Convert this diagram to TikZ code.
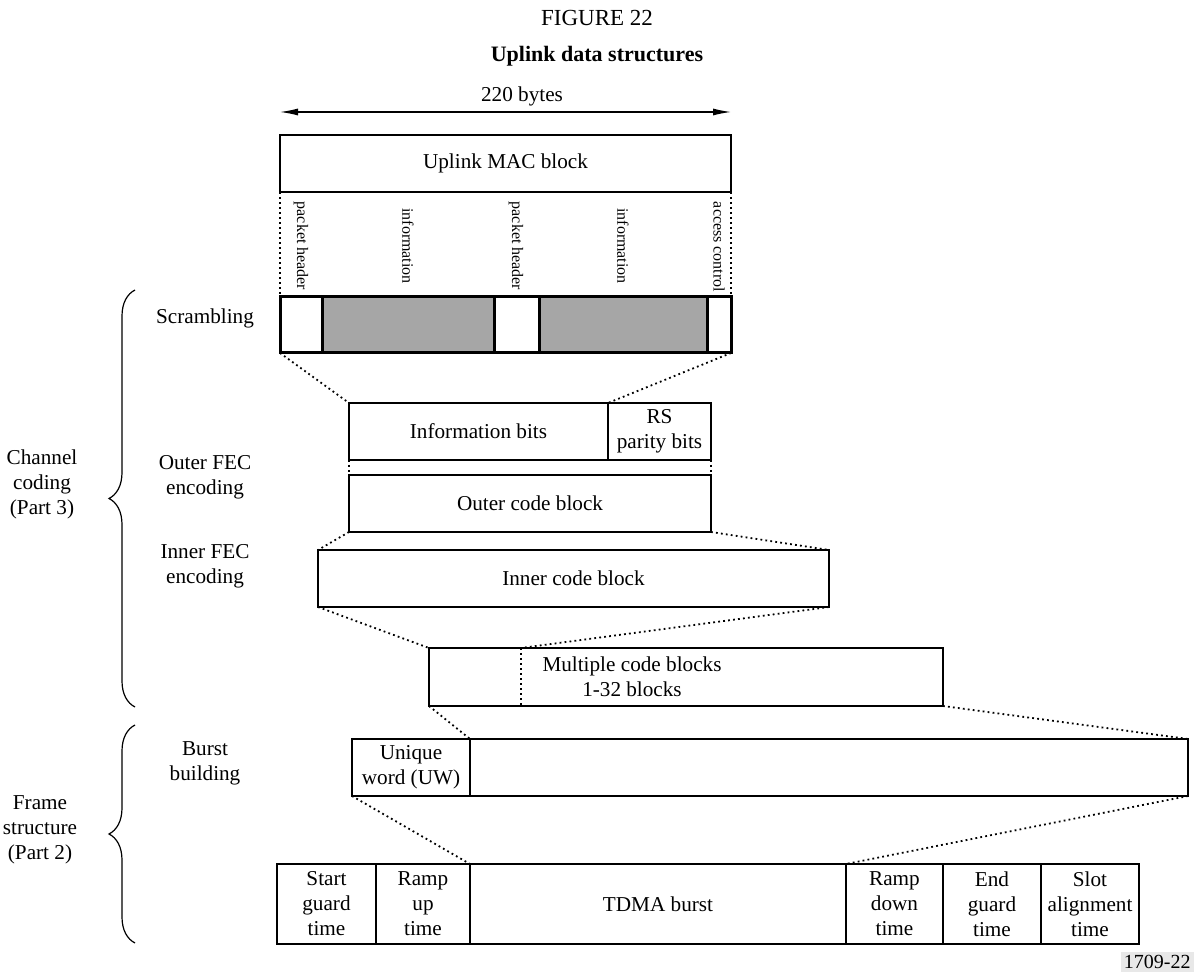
\documentclass[tikz,border=0pt]{standalone}
\usepackage{fontspec}
\setmainfont{Liberation Serif}
\usetikzlibrary{arrows.meta,positioning,decorations.pathreplacing}
\definecolor{shadegray}{RGB}{166,166,166}
\definecolor{taggray}{RGB}{232,232,232}
\tikzset{
  field/.style={rectangle, draw, line width=1.2pt, inner sep=0pt, outer sep=0pt, align=center,
                font=\fontsize{10.6}{12.5}\selectfont},
  fieldgray/.style={field, fill=shadegray},
  scram/.style={field, line width=1.5pt, minimum height=28pt},
  slot/.style={field, minimum height=40pt},
  vlabel/.style={rotate=-90, font=\fontsize{8}{9.5}\selectfont},
  steplabel/.style={align=center, font=\fontsize{10.6}{12.5}\selectfont},
  zoomline/.style={line width=0.9pt, dash pattern=on 0.9pt off 1.6pt},
  groupbrace/.style={decorate, decoration={brace, amplitude=13pt}, line width=0.6pt},
}

\begin{document}
\begin{tikzpicture}[x=0.5pt, y=-0.5pt]
\useasboundingbox (0,0) rectangle (1194,972);
\node[font=\fontsize{11.5}{13}\selectfont] (fig) at (597,18) {FIGURE 22};
\node[font=\fontsize{11}{13}\bfseries] (title) at (597,56) {Uplink data structures};
\coordinate (wl) at (280,112);
\coordinate (wr) at (731,112);
\node[steplabel] (bytes) at (522,96) {220 bytes};
\draw[{Latex[length=9pt, width=3.5pt]}-{Latex[length=9pt, width=3.5pt]}, line width=0.6pt] (wl) -- (wr);

\node[field, anchor=north west, minimum width=225.5pt, minimum height=28.5pt] (mac) at (280,135) {Uplink MAC block};

\node[scram, anchor=north west, minimum width=21pt] (s1) at (280,297) {};
\node[scram, fill=shadegray, minimum width=86pt, right=0pt of s1] (s2) {};
\node[scram, minimum width=22.5pt, right=0pt of s2] (s3) {};
\node[scram, fill=shadegray, minimum width=84pt, right=0pt of s3] (s4) {};
\node[scram, minimum width=12pt, right=0pt of s4] (s5) {};
\node[vlabel] (ph1) at (301,246) {packet header};
\node[vlabel] (inf1) at (408,246) {information};
\node[vlabel] (ph2) at (516,246) {packet header};
\node[vlabel] (inf2) at (623,246) {information};
\node[vlabel] (acc) at (719,247) {access control};
\draw[zoomline] (mac.south west) -- (s1.north west);
\draw[zoomline] (mac.south east) -- (s5.north east);

\node[field, anchor=north west, minimum width=129.5pt, minimum height=28.5pt] (info) at (349,403) {Information bits};
\node[field, minimum width=51.5pt, minimum height=28.5pt, right=0pt of info] (rs) {RS\\parity bits};
\node[field, anchor=north west, minimum width=181pt, minimum height=28.5pt] (outer) at (349,475) {Outer code block};
\node[field, anchor=north west, minimum width=255.5pt, minimum height=28.5pt] (inner) at (318,550) {Inner code block};
\node[field, anchor=north west, minimum width=257pt, minimum height=29pt] (mult) at (429,648) {};
\node[steplabel] (multtxt) at (632,677) {Multiple code blocks\\1-32 blocks};
\coordinate (mtop) at (521,648);
\coordinate (mbot) at (521,706);
\draw[zoomline] (mtop) -- (mbot);

\node[field, anchor=north west, minimum width=59pt, minimum height=28.5pt] (uw) at (352,739) {Unique\\word (UW)};
\node[field, minimum width=359pt, minimum height=28.5pt, right=0pt of uw] (burst) {};

\node[slot, anchor=north west, minimum width=49.5pt] (b1) at (277,864) {Start\\guard\\time};
\node[slot, minimum width=47pt, right=0pt of b1] (b2) {Ramp\\up\\time};
\node[slot, minimum width=188pt, right=0pt of b2] (b3) {TDMA burst};
\node[slot, minimum width=48.5pt, right=0pt of b3] (b4) {Ramp\\down\\time};
\node[slot, minimum width=49pt, right=0pt of b4] (b5) {End\\guard\\time};
\node[slot, minimum width=49pt, right=0pt of b5] (b6) {Slot\\alignment\\time};

\draw[zoomline] (s1.south west) -- (info.north west);
\draw[zoomline] (s5.south east) -- (rs.north west);
\draw[zoomline] (info.south west) -- (outer.north west);
\draw[zoomline] (rs.south east) -- (outer.north east);
\draw[zoomline] (outer.south west) -- (inner.north west);
\draw[zoomline] (outer.south east) -- (inner.north east);
\draw[zoomline] (inner.south west) -- (mult.north west);
\draw[zoomline] (inner.south east) -- (mtop);
\draw[zoomline] (mult.south west) -- (burst.north west);
\draw[zoomline] (mult.south east) -- (burst.north east);
\draw[zoomline] (uw.south west) -- (b3.north west);
\draw[zoomline] (burst.south east) -- (b4.north west);

\node[steplabel] (scrlbl) at (205,318) {Scrambling};
\node[steplabel] (outlbl) at (205,477) {Outer FEC\\encoding};
\node[steplabel] (inlbl) at (205,566) {Inner FEC\\encoding};
\node[steplabel] (burlbl) at (205,763) {Burst\\building};
\node[steplabel] (chlbl) at (42,484) {Channel\\coding\\(Part 3)};
\node[steplabel] (frlbl) at (40,830) {Frame\\structure\\(Part 2)};
\draw[groupbrace] (135,707) -- (135,290);
\draw[groupbrace] (135,943) -- (135,725);

\node[fill=taggray, inner sep=1.5pt, anchor=south east, font=\fontsize{10}{12}\selectfont] (tag) at (1194,972) {1709-22};
\end{tikzpicture}
\end{document}
